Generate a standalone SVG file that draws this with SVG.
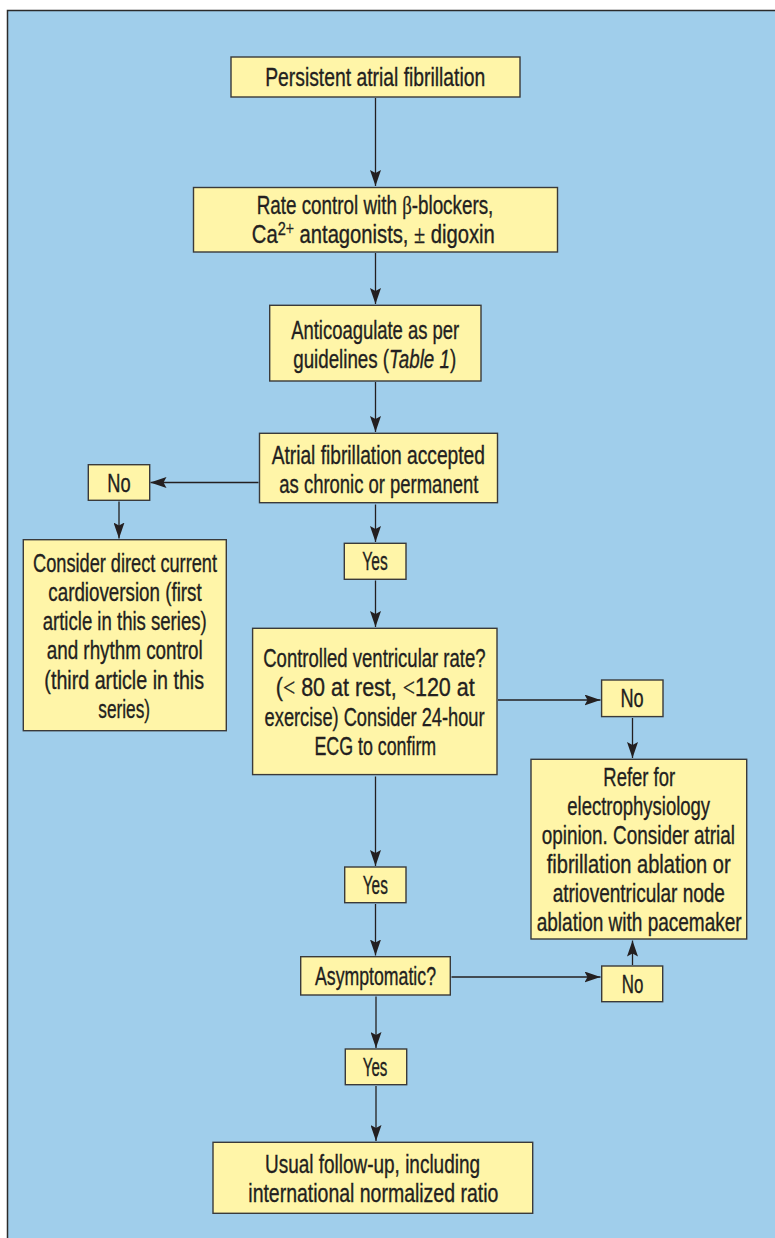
<svg xmlns="http://www.w3.org/2000/svg" width="775" height="1238" viewBox="0 0 775 1238">
<style>
.bg{fill:#A0CEEB;stroke:#2b2b2b;stroke-width:1.5}
.box{fill:#FFF5A8;stroke:#3a3a3a;stroke-width:1.4}
.t{font-family:"Liberation Sans",Arial,sans-serif;font-size:25px;fill:#231F20;stroke:#231F20;stroke-width:0.35;text-anchor:middle}
.m{font-family:"Liberation Serif","Times New Roman",serif}
.c{stroke:#231F20;stroke-width:1.3;fill:none;marker-end:url(#ah)}
</style>
<defs>
<marker id="ah" viewBox="0 0 16 11" refX="16" refY="5.5" markerWidth="16" markerHeight="11" orient="auto" markerUnits="userSpaceOnUse">
<path d="M0,0 L16,5.5 L0,11 L3,5.5 z" fill="#231F20"/>
</marker>
</defs>
<rect x="0" y="0" width="775" height="1238" fill="#ffffff"/>
<rect class="bg" x="7.5" y="10.5" width="800" height="1300"/>

<g id="connectors">
<line class="c" x1="375.5" y1="98" x2="375.5" y2="186"/>
<line class="c" x1="375.5" y1="253" x2="375.5" y2="304"/>
<line class="c" x1="375.5" y1="382" x2="375.5" y2="432"/>
<line class="c" x1="258.5" y1="482.5" x2="150.5" y2="482.5"/>
<line class="c" x1="119" y1="501.5" x2="119" y2="538.5"/>
<line class="c" x1="375.5" y1="504.5" x2="375.5" y2="542"/>
<line class="c" x1="375.5" y1="580.5" x2="375.5" y2="627"/>
<line class="c" x1="498" y1="700" x2="600.5" y2="700"/>
<line class="c" x1="632.5" y1="718" x2="632.5" y2="758"/>
<line class="c" x1="375.5" y1="776.5" x2="375.5" y2="866"/>
<line class="c" x1="375.5" y1="904" x2="375.5" y2="955.5"/>
<line class="c" x1="451.5" y1="977" x2="600.5" y2="977"/>
<line class="c" x1="632.5" y1="965" x2="632.5" y2="940.5"/>
<line class="c" x1="376" y1="996.5" x2="376" y2="1048"/>
<line class="c" x1="376" y1="1086" x2="376" y2="1141"/>
</g>

<g id="n-persistent">
<rect class="box" x="231" y="57" width="289" height="40"/>
<text class="t" transform="translate(375.2,86) scale(0.75,1)" textLength="293.3" lengthAdjust="spacingAndGlyphs">Persistent atrial fibrillation</text>
</g>

<g id="n-rate">
<rect class="box" x="193.5" y="187.5" width="364" height="64.5"/>
<text class="t" transform="translate(375,214) scale(0.75,1)" textLength="315.6" lengthAdjust="spacingAndGlyphs">Rate control with <tspan class="m">β</tspan>-blockers,</text>
<text class="t" transform="translate(373.3,243) scale(0.75,1)" textLength="324" lengthAdjust="spacingAndGlyphs">Ca<tspan font-size="18" dy="-8">2</tspan><tspan class="m" font-size="18">+</tspan><tspan dy="8"> antagonists, </tspan><tspan class="m">±</tspan> digoxin</text>
</g>

<g id="n-anticoag">
<rect class="box" x="269.7" y="305.3" width="211.3" height="75.7"/>
<text class="t" transform="translate(375.2,339) scale(0.75,1)" textLength="224" lengthAdjust="spacingAndGlyphs">Anticoagulate as per</text>
<text class="t" transform="translate(374.7,368) scale(0.75,1)" textLength="217.3" lengthAdjust="spacingAndGlyphs">guidelines (<tspan font-style="italic">Table 1</tspan>)</text>
</g>

<g id="n-accepted">
<rect class="box" x="259.5" y="433.3" width="238" height="69.4"/>
<text class="t" transform="translate(378.3,464) scale(0.75,1)" textLength="284.4" lengthAdjust="spacingAndGlyphs">Atrial fibrillation accepted</text>
<text class="t" transform="translate(378.8,493) scale(0.75,1)" textLength="265.3" lengthAdjust="spacingAndGlyphs">as chronic or permanent</text>
</g>

<g id="n-no1">
<rect class="box" x="88.3" y="464.7" width="61.4" height="35.6"/>
<text class="t" transform="translate(119,491.5) scale(0.75,1)" textLength="31.1" lengthAdjust="spacingAndGlyphs">No</text>
</g>

<g id="n-consider">
<rect class="box" x="23.3" y="539.7" width="203" height="191"/>
<text class="t" transform="translate(125,571.5) scale(0.75,1)" textLength="245.3" lengthAdjust="spacingAndGlyphs">Consider direct current</text>
<text class="t" transform="translate(125,600.8) scale(0.75,1)" textLength="204.4" lengthAdjust="spacingAndGlyphs">cardioversion (first</text>
<text class="t" transform="translate(124.7,630.1) scale(0.75,1)" textLength="218.7" lengthAdjust="spacingAndGlyphs">article in this series)</text>
<text class="t" transform="translate(124.7,659.4) scale(0.75,1)" textLength="208" lengthAdjust="spacingAndGlyphs">and rhythm control</text>
<text class="t" transform="translate(124.2,688.7) scale(0.75,1)" textLength="212.9" lengthAdjust="spacingAndGlyphs">(third article in this</text>
<text class="t" transform="translate(124.2,718) scale(0.75,1)" textLength="68.9" lengthAdjust="spacingAndGlyphs">series)</text>
</g>

<g id="n-yes1">
<rect class="box" x="344.3" y="543.3" width="61.7" height="36"/>
<text class="t" transform="translate(375,570.3) scale(0.75,1)" textLength="33.7" lengthAdjust="spacingAndGlyphs">Yes</text>
</g>

<g id="n-controlled">
<rect class="box" x="252.6" y="628.3" width="244.4" height="146.3"/>
<text class="t" transform="translate(374.4,666.5) scale(0.75,1)" textLength="296.5" lengthAdjust="spacingAndGlyphs">Controlled ventricular rate?</text>
<text class="t" transform="translate(375.3,696) scale(0.75,1)" textLength="265.2" lengthAdjust="spacingAndGlyphs">(<tspan class="m">&lt;</tspan> 80 at rest, <tspan class="m">&lt;</tspan>120 at</text>
<text class="t" transform="translate(374.6,725.5) scale(0.75,1)" textLength="293.3" lengthAdjust="spacingAndGlyphs">exercise) Consider 24-hour</text>
<text class="t" transform="translate(375.3,755) scale(0.75,1)" textLength="162.4" lengthAdjust="spacingAndGlyphs">ECG to confirm</text>
</g>

<g id="n-no2">
<rect class="box" x="601.6" y="680" width="61.4" height="36.6"/>
<text class="t" transform="translate(632,707) scale(0.75,1)" textLength="30.9" lengthAdjust="spacingAndGlyphs">No</text>
</g>

<g id="n-refer">
<rect class="box" x="531" y="759.3" width="215.7" height="179.7"/>
<text class="t" transform="translate(639.2,785.5) scale(0.75,1)" textLength="95.6" lengthAdjust="spacingAndGlyphs">Refer for</text>
<text class="t" transform="translate(638.7,814.5) scale(0.75,1)" textLength="190.3" lengthAdjust="spacingAndGlyphs">electrophysiology</text>
<text class="t" transform="translate(638.3,843.7) scale(0.75,1)" textLength="257.7" lengthAdjust="spacingAndGlyphs">opinion. Consider atrial</text>
<text class="t" transform="translate(638.7,872.9) scale(0.75,1)" textLength="245.3" lengthAdjust="spacingAndGlyphs">fibrillation ablation or</text>
<text class="t" transform="translate(638.8,902.1) scale(0.75,1)" textLength="229.7" lengthAdjust="spacingAndGlyphs">atrioventricular node</text>
<text class="t" transform="translate(639.2,931.3) scale(0.75,1)" textLength="273.3" lengthAdjust="spacingAndGlyphs">ablation with pacemaker</text>
</g>

<g id="n-yes2">
<rect class="box" x="344.7" y="867" width="61.3" height="35.7"/>
<text class="t" transform="translate(375.3,894) scale(0.75,1)" textLength="33.3" lengthAdjust="spacingAndGlyphs">Yes</text>
</g>

<g id="n-asymptomatic">
<rect class="box" x="300.7" y="956.7" width="149.6" height="38.3"/>
<text class="t" transform="translate(375.5,985) scale(0.75,1)" textLength="161.3" lengthAdjust="spacingAndGlyphs">Asymptomatic?</text>
</g>

<g id="n-no3">
<rect class="box" x="601.7" y="966" width="61" height="35.7"/>
<text class="t" transform="translate(632.5,993) scale(0.75,1)" textLength="28.8" lengthAdjust="spacingAndGlyphs">No</text>
</g>

<g id="n-yes3">
<rect class="box" x="345.3" y="1049" width="61.4" height="35.7"/>
<text class="t" transform="translate(375,1075.5) scale(0.75,1)" textLength="32.8" lengthAdjust="spacingAndGlyphs">Yes</text>
</g>

<g id="n-followup">
<rect class="box" x="213" y="1142.3" width="319.7" height="71"/>
<text class="t" transform="translate(372.5,1172.5) scale(0.75,1)" textLength="286.7" lengthAdjust="spacingAndGlyphs">Usual follow-up, including</text>
<text class="t" transform="translate(373.3,1201.5) scale(0.75,1)" textLength="333.3" lengthAdjust="spacingAndGlyphs">international normalized ratio</text>
</g>
</svg>
